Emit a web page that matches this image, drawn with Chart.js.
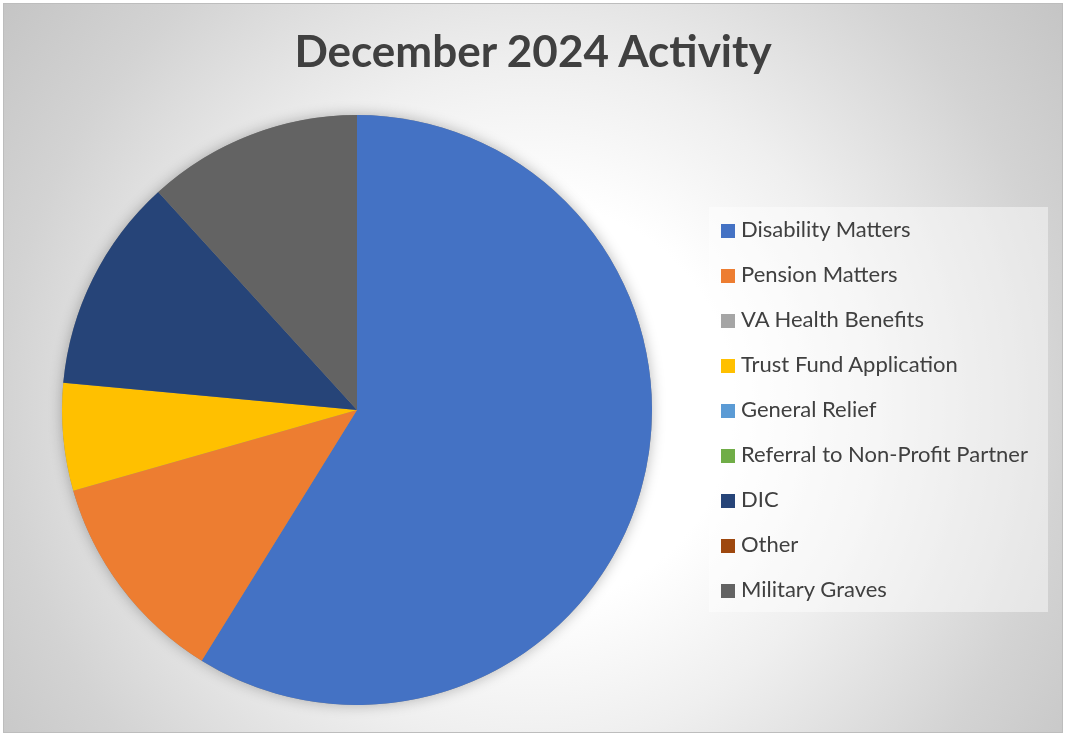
<!DOCTYPE html>
<html>
<head>
<meta charset="utf-8">
<script src="https://cdn.jsdelivr.net/npm/chart.js@4.4.1/dist/chart.umd.min.js"></script>
<style>
  html, body { margin: 0; padding: 0; background: #fff; }
  #frame {
    position: absolute; left: 3px; top: 3px; width: 1058px; height: 728px;
    border: 1px solid #bdbdbd;
    background: radial-gradient(circle at 530px 400px, #ffffff 0px, #ffffff 200px, #efefef 340px, #d3d3d3 530px, #c2c2c2 690px);
    overflow: hidden;
  }
  #title {
    position: absolute; left: 0; top: 24px; width: 1066px; text-align: center;
    font-family: Lato, "Open Sans", sans-serif; font-weight: bold; font-size: 44px;
    color: #404040;
  }
  #legend {
    position: absolute; left: 709px; top: 207px; width: 339px; height: 405px;
    background: rgba(255,255,255,0.45);
  }
  .item {
    position: absolute; left: 12px; height: 26px; line-height: 26px;
    font-family: Lato, "Open Sans", sans-serif; font-size: 22px; color: #404040;
    white-space: nowrap;
  }
  .item span.sw {
    display: inline-block; width: 14px; height: 14px; margin-right: 6px; vertical-align: -1px;
  }
  canvas { position: absolute; left: 0; top: 0; }
</style>
</head>
<body>
<div id="frame"></div>
<canvas id="pie" width="1066" height="736"></canvas>
<div id="title">December 2024 Activity</div>
<div id="legend"></div>
<script>
var categories = ['Disability Matters', 'Pension Matters', 'VA Health Benefits', 'Trust Fund Application',
  'General Relief', 'Referral to Non-Profit Partner', 'DIC', 'Other', 'Military Graves'];
var counts = [10, 2, 0, 1, 0, 0, 2, 0, 2];
var colors = ['#4472C4', '#ED7D31', '#A5A5A5', '#FFC000', '#5B9BD5', '#70AD47', '#264478', '#9E480E', '#636363'];

// legend, same order as the slices
var legendEl = document.getElementById('legend');
categories.forEach((name, i) => {
  var row = document.createElement('div');
  row.className = 'item';
  row.style.top = (9 + i * 45) + 'px';
  row.innerHTML = '<span class="sw" style="background:' + colors[i] + '"></span>' + name;
  legendEl.appendChild(row);
});

// soft shadow under the whole pie
var pieShadow = {
  id: 'pieShadow',
  beforeDatasetsDraw: (chart) => {
    var arc = chart.getDatasetMeta(0).data[0];
    if (!arc) return;
    var ctx = chart.ctx;
    ctx.save();
    ctx.shadowColor = 'rgba(0,0,0,0.28)';
    ctx.shadowBlur = 14;
    ctx.fillStyle = '#888';
    ctx.beginPath();
    ctx.arc(arc.x, arc.y, arc.outerRadius, 0, Math.PI * 2);
    ctx.fill();
    ctx.restore();
  }
};

new Chart(document.getElementById('pie'), {
  type: 'pie',
  data: {
    labels: categories,
    datasets: [{
      data: counts,
      backgroundColor: colors,
      borderWidth: 0,
      hoverOffset: 0
    }]
  },
  options: {
    responsive: false,
    devicePixelRatio: 1,
    animation: false,
    layout: { padding: { left: 62, top: 115, right: 414, bottom: 31 } },
    plugins: {
      legend: { display: false },
      title: { display: false },
      tooltip: { enabled: false }
    }
  },
  plugins: [pieShadow]
});
</script>
</body>
</html>
